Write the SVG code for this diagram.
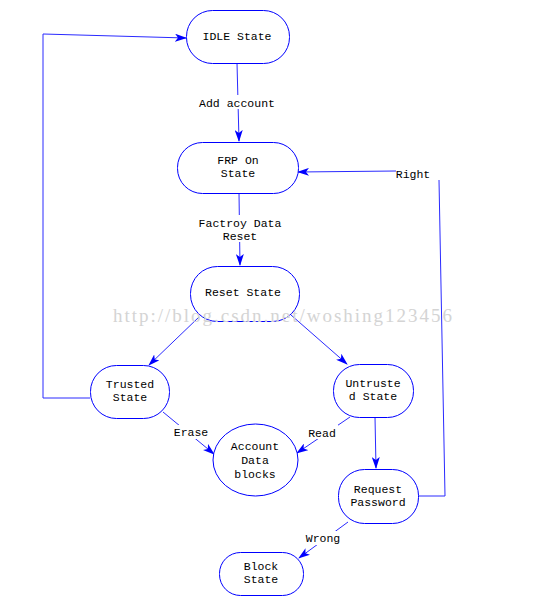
<svg xmlns="http://www.w3.org/2000/svg" width="547" height="610" viewBox="0 0 547 610">
<style>
.n{fill:#fff;stroke:#0000ff;stroke-width:1}
.t{font-family:"Liberation Mono",monospace;font-size:11.5px;fill:#000;text-anchor:middle}
.c{fill:none;stroke:#2a2aff;stroke-width:1}
.wm{font-family:"Liberation Serif",serif;font-size:19px;fill:#d4d4d4}
</style>
<defs>
<marker id="a" viewBox="0 0 12 8" refX="11" refY="4" markerWidth="12" markerHeight="8" orient="auto" markerUnits="userSpaceOnUse">
<path d="M0,0 L12,4 L0,8 L3,4 z" fill="#0000ff"/>
</marker>
</defs>
<rect width="547" height="610" fill="#fff"/>
<g id="connectors">
<line class="c" x1="237" y1="63" x2="239" y2="141" marker-end="url(#a)"/>
<line class="c" x1="239" y1="193" x2="240" y2="265" marker-end="url(#a)"/>
<line class="c" x1="199" y1="317" x2="149" y2="365" marker-end="url(#a)"/>
<line class="c" x1="291" y1="315" x2="347" y2="364" marker-end="url(#a)"/>
<line class="c" x1="163" y1="412" x2="214" y2="454" marker-end="url(#a)"/>
<line class="c" x1="350" y1="417" x2="297" y2="453" marker-end="url(#a)"/>
<line class="c" x1="375" y1="417" x2="376" y2="468" marker-end="url(#a)"/>
<line class="c" x1="348" y1="522" x2="299" y2="558" marker-end="url(#a)"/>
<polyline class="c" points="418,496 445,496 439,180"/>
<line class="c" x1="396" y1="171" x2="298" y2="172" marker-end="url(#a)"/>
<polyline class="c" points="90,398 43,398 43,34 186,38" marker-end="url(#a)"/>
<rect x="196" y="95" width="82" height="14" fill="#fff"/>
<text class="t" x="237" y="107">Add account</text>
<rect x="196" y="215" width="88" height="27" fill="#fff"/>
<text class="t" x="240" y="227">Factroy Data</text>
<text class="t" x="240" y="240">Reset</text>
<rect x="172" y="425" width="38" height="14" fill="#fff"/>
<text class="t" x="191" y="436">Erase</text>
<rect x="307" y="425" width="31" height="14" fill="#fff"/>
<text class="t" x="322" y="437">Read</text>
<rect x="304" y="531" width="38" height="14" fill="#fff"/>
<text class="t" x="323" y="542">Wrong</text>
<text class="t" x="413" y="178">Right</text>
</g>
<g id="idle"><rect class="n" x="186.5" y="10.5" width="103" height="53" rx="26" ry="26"/><text class="t" x="237" y="40">IDLE State</text></g>
<g id="frp"><rect class="n" x="177.5" y="142.5" width="121" height="51" rx="25" ry="25"/><text class="t" x="238" y="164">FRP On</text><text class="t" x="238" y="177">State</text></g>
<g id="reset"><rect class="n" x="190.5" y="266.5" width="109" height="55" rx="27" ry="27"/><text class="t" x="243" y="296">Reset State</text></g>
<g id="trusted"><rect class="n" x="90.5" y="365.5" width="79" height="53" rx="26" ry="26"/><text class="t" x="130" y="388">Trusted</text><text class="t" x="130" y="401">State</text></g>
<g id="untrusted"><rect class="n" x="333.5" y="364.5" width="80" height="53" rx="26" ry="26"/><text class="t" x="373" y="387">Untruste</text><text class="t" x="373" y="400">d State</text></g>
<g id="account"><ellipse class="n" cx="255.5" cy="460" rx="42.5" ry="36"/><text class="t" x="255" y="450">Account</text><text class="t" x="255" y="464">Data</text><text class="t" x="255" y="478">blocks</text></g>
<g id="request"><rect class="n" x="338.5" y="469.5" width="80" height="54" rx="26" ry="26"/><text class="t" x="378" y="493">Request</text><text class="t" x="378" y="506">Password</text></g>
<g id="block"><rect class="n" x="219.5" y="552.5" width="84" height="43" rx="21" ry="21"/><text class="t" x="261" y="570">Block</text><text class="t" x="261" y="583">State</text></g>
<text class="wm" x="113" y="322" textLength="339" lengthAdjust="spacing">http://blog.csdn.net/woshing123456</text>
</svg>
